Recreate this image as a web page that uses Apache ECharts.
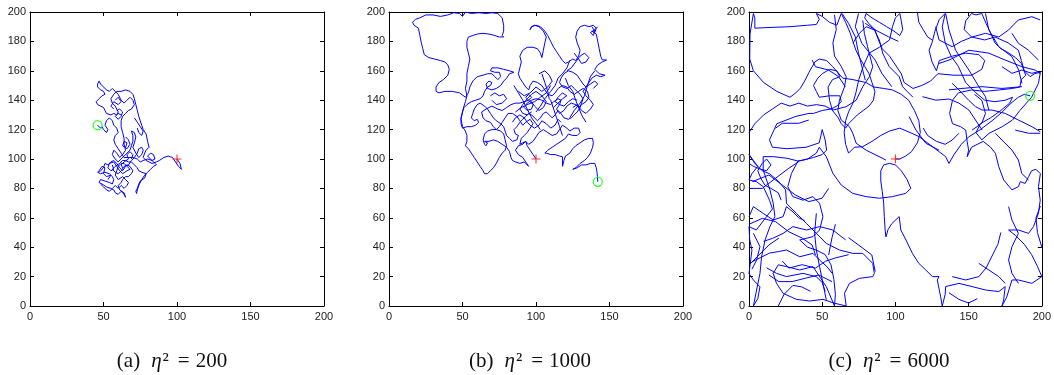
<!DOCTYPE html>
<html>
<head>
<meta charset="utf-8">
<script src="https://cdn.jsdelivr.net/npm/echarts@6/dist/echarts.min.js"></script>
<style>
  html, body { margin: 0; padding: 0; background: #fff; }
  #main { width: 1054px; height: 375px; }
</style>
</head>
<body>
<div id="main"></div>
<script>
// trajectories (x, y in field units 0..200)
var walk200 = [
  [100,100],[102,97],[103,93],[101,95],[99,98],[97,101],[94,102],[91,101],[88,99],[86,98],[83,97],[81,98],[79,99],[77,101],
  [78,104],[79,106],[81,108],[80,112],[79,117],[77,120],[76,123],[75,126],[74,129],[73,133],[72,137],[71,141],[70,144],
  [68,146],[65,147],[62,146],[59,146],[57,144],[55,141],[56,138],[58,136],[60,132],[59,130],[57,131],[55,130],[52,131],
  [51,133],[50,135],[48,136],[46,137],[45,139],[47,141],[49,143],[51,144],[50,146],[48,147],[46,149],[46,151],[47,153],
  [48,151],[50,149],[52,147],[54,146],[56,148],[58,146],[60,144],[62,140],[64,138],[66,140],[68,142],[70,140],[71,137],
  [69,134],[67,133],[65,131],[63,129],[62,126],[62,122],[63,118],[64,114],[64,110],[65,106],[63,103],[61,101],[59,104],
  [57,106],[56,103],[58,100],[60,98],[62,100],[64,102],[66,104],[68,106],[69,109],[70,112],[70,116],[69,119],[71,118],
  [72,115],[71,111],[70,108],[72,104],[74,101],[76,103],[77,106],[76,108],[74,107],[73,104],[71,101],[69,99],[67,96],
  [65,95],[63,92],[61,94],[59,97],[57,99],[55,98],[53,96],[51,97],[50,94],[48,92],[46,91],[48,90],[51,91],[54,90],
  [56,88],[57,86],[56,83],[54,84],[51,85],[48,86],[47,84],[49,83],[52,81],[55,80],[57,79],[58,77],[60,76],[62,78],
  [64,76],[65,74],[64,77],[61,79],[60,82],[62,84],[63,86],[65,88],[67,88],[69,90],[70,92],[68,95],[66,96],[64,95],
  [62,92],[60,90],[58,91],[56,93],[58,95],[61,97],[63,99],[65,99],[67,98],[69,98],[71,96],[73,94],[74,92],[76,91],
  [79,90],[78,87],[75,85],[74,83],[73,80],[72,78],[72.5,76.5],[73,79],[74,82],[76,86],[78,89],[80,91],[82,93],[84,95],
  [86,96],[84,98],[82,100],[80,102],[82,104],[84,103],[85,100],[83,99],[80,100],[77,99],[75,98],[73,100],[70,101],
  [67,101],[64,101],[62,104],[60,107],[58,110],[57,113],[58,116],[60,118],[59,121],[57,123],[56,126],[54,128],[52,126],
  [51,123],[53,120],[52,118],[50,120],[49,122],[48,121],[46,123]
];
// short side loops of the same walk
var extra200 = [
  [[56,96],[57,93],[55,92],[53,94],[54,97],[57,98],[59,95],[61,92],[63,90],[66,92],[68,93],[66,95],[64,97],[62,97],[60,95],
   [59,92],[58,89],[60,86],[63,88],[65,86],[67,84],[66,82],[64,80],[62,82],[60,80],[58,82],[56,80],[54,78],[52,79],[50,81],[48,83]],
  [[62,130],[60,131],[58,129],[60,127],[62,129],[63,132],[61,134],[59,133]],
  [[69,100],[70,103],[68,105],[66,103],[67,100],[64,98],[62,96],[63,94]],
  [[47,92],[49,95],[51,94],[50,90],[52,88],[55,89],[53,86]],
  [[71,128],[73,125],[75,122],[77,119],[76,116],[74,118],[73,121]],
  [[65,108],[66,111],[64,112],[63,109],[66,107],[68,110],[67,113],[65,115]],
  [[58,140],[60,142],[62,139],[60,137],[57,139],[55,136],[57,134]]
];

var walk1000 = [
  [100,100],[98,103],[96,106],[94,109],[93,112],[91,111],[89,110],[90,114],[92,116],[94,118],[96,121],[98,124],[96,127],
  [93,125],[91,123],[89,126],[87,129],[84,131],[81,131],[79,128],[77,125],[75,122],[73,120],[71,122],[69,125],[66,126],
  [64,128],[63,132],[66,134],[70,136],[74,134],[77,133],[80,135],[83,137],[86,138],[89,138],[92,139],[95,140],[97,142],
  [95,144],[93,142],[96,139],[98,137],[97,134],[94,133],[92,135],[94,138],[97,140],[100,141],[104,140],[107,138],[110,137],
  [112,139],[115,141],[117,140],[116,137],[114,134],[116,131],[119,133],[121,136],[124,138],[127,137],[129,135],[131,137],
  [134,139],[136,142],[135,146],[132,148],[129,146],[126,144],[123,146],[121,149],[118,150],[115,148],[113,145],[111,143],
  [108,144],[106,147],[104,150],[101,152],[98,153],[96,150],[95,147],[93,149],[91,152],[89,155],[88,158],[89,162],[90,166],
  [89,170],[91,174],[94,176],[98,176],[101,175],[103,172],[104,169],[105,174],[106,179],[107,183],[105,187],[102,190],
  [99,191],[97,190],[96,188],[97,190],[100,191],[103,190],[106,187],[108,184],[110,180],[112,176],[114,173],[116,170],
  [118,167],[120,165],[122,166],[125,168],[127,167],[129,170],[130,174],[128,179],[127,183],[128,187],[130,190],[133,191],
  [136,190],[139,191],[141,189],[140,186],[138,187],[141,185],[142,180],[143,175],[144,170],[145,167.5],[148,167.3],
  [145,166],[142,164],[140,161],[143,158],[147,157],[144,156],[141,157],[138,155],[136,152],[134,149],[132,151],[130,154],
  [128,157],[125,159],[122,160],[119,158],[117,155],[116,152],[118,149],[121,148],[124,150],[126,148],[128,146],[130,144],
  [132,141],[131,138],[130,135],[128,132],[126,130],[124,128],[122,127],[119,128],[117,131],[115,133],[113,130],[111,128],
  [109,130],[107,132],[105,131],[103,128],[101,126],[99,128],[97,130],[95,131],[93,129],[91,127],[89,125],[87,122],
  [85,120],[86,117],[88,116],[87,113],[84,112],[82,114],[80,116],[79,119],[78,122],[76,124],[73,126],[71,128],[69,131],
  [67,134],[65,136],[62,138],[60,137],[58,134],[57,131],[56,128],[58,126],[60,127],[61,125],[59,123],[56,122],[53,122],
  [50,121],[49,124],[49,128],[50,132],[51,135],[53,137],[56,139],[59,140],[62,141],[64,143],[65,146],[67,149],[69,150],
  [70,152],[68,153],[66,151],[67,148],[70,147],[73,148],[76,150],[78,153],[80,155],[82,158],[85,159],[82,160],[78,161],
  [74,162],[70,162],[69,160],[72,159],[75,159],[76,156],[74,154],[72,156],[70,158],[67,158],[64,157],[60,156],[57,153],
  [55,149],[54,145],[52,142],[48,145],[43,146],[38,146],[34,145],[32,146],[32,149],[34,152],[37,154],[40,157],[41,161],
  [40,164],[38,166],[35,167],[31,168],[27,169],[24,171],[23,175],[22,179],[21,184],[20,189],[17,191],[16,193],[18,195],
  [21,196],[25,198],[30,198],[35,197],[40,198],[44,199.5],[48,199],[50,197],[52,200],[56,199],[61,199.5],[66,199],
  [70,199.5],[74,199],[77,196],[78,191],[78,187],[77,184],[78,183],[75,183],[72,184],[68,185],[64,185.5],[60,185],
  [57,184],[54,183],[53,180],[53,176],[54,172],[55,168],[54,163],[53,158],[53,153],[52,148],[53,143],[52,139],[51,136],
  [50,132],[49,127],[50,122],[52,119],[53,116],[53,112],[52,109],[54,107],[56,104],[58,101],[60,98],[62,95],[64,92],
  [65,90],[67,90],[69,92],[71,94],[73,97],[75,101],[77,104],[79,106],[80,109],[79,113],[78,117],[76,119],[73,120],
  [70,120],[67,119],[65,117],[64,113],[65,110],[66,109],[67,111],[65,112],[68,112],[71,113],[74,112],[77,110],[80,108],
  [82,105],[83,101],[84,99],[86,98],[89,97],[92,98],[94,96],[95,95],[93,98],[91,101],[88,103],[86,106],[88,109],[91,110],
  [93,112],[95,110],[98,112],[100,115],[102,118],[105,120],[108,118],[111,116],[114,117],[116,120],[118,123],[121,121],
  [123,119],[126,121],[129,121],[130,118],[128,116],[125,116],[122,117],[120,114],[117,112],[114,110],[111,108],[108,106],
  [106,104],[107,104],[110,103],[113,103],[116,102],[118,101.5],[118,98],[118,95],[119,99],[120,102],[123,104],[125,107],
  [127,109],[130,111],[133,113],[136,114],[138.5,114],[139,111],[138.5,108],[137,104],[135,101],[133,99],[130,97],
  [127,94],[125,93],[128,94],[131,96],[134,96],[137,97],[140,97],[141,94],[141.5,91],[141.8,88],[142,84.5]
];
var extra1000 = [
  [[96,140],[99,136],[102,133],[105,135],[107,139],[104,143],[100,146],[97,144],[94,141],[91,137],[89,134],[91,131],[94,130],[97,132]],
  [[112,135],[115,138],[118,141],[121,143],[118,145],[115,142],[113,139],[116,137],[119,136],[122,139],[125,141],[128,140]],
  [[125,135],[128,137],[131,133],[134,131],[137,134],[139,137],[137,140],[134,143],[132,146],[134,149],[137,151],[140,153],[142,151],[139,148]],
  [[126,172],[129,168],[131,165],[134,166],[136,169],[133,172],[130,170],[127,166],[124,162],[121,160]],
  [[138,190],[140,187],[139,184],[137,186],[140,188],[142,190]],
  [[70,140],[73,137],[77,138],[80,141],[78,144],[75,143],[72,145],[69,143]],
  [[84,125],[86,128],[89,130],[92,128],[94,125],[96,123],[99,121],[102,123],[104,126],[107,124],[110,121],[113,123],[115,127],[117,125]],
  [[100,132],[103,136],[106,141],[110,146],[113,150],[115,155],[118,158],[121,162],[123,167]],
  [[88,146],[92,143],[96,145],[100,149],[104,146],[108,149],[111,153],[109,157],[106,160],[102,158]],
  [[85,150],[88,145],[91,140],[93,136],[94,134],[97,128],[100,124],[103,120]],
  [[104,158],[106,152],[108,146],[109,141],[110,140],[112,134],[114,128],[116,122],[118,116]],
  [[120,155],[122,150],[125,146],[127,140],[129,135],[131,130],[134,125]],
  [[86,132],[90,135],[94,137],[99,139],[103,142],[107,145],[110,150]],
  [[123,128],[126,133],[130,138],[133,143],[135,150],[137,156],[140,160]]
];

var walk6000 = [
  [100,100],[103,100],[107,102],[111,105],[115,111],[117,118],[116,126],[113,133],[109,140],[104,144],[98,147],[92,148],
  [85,149],[80,152],[71,154],[64,155],[57,163],[53,167],[48,168],[45,166],[41,159],[38,153],[35,148],[32,145],[28,142],
  [19,146],[10,152],[3,160],[0.5,168],[0.7,185],[3,199],
  [4,196],[4,189],[15,189.5],[28,190],[40,191],[46,191.5],[48,195],[46,199],[50,197],[55,193],[60,191],[63,199],
  [66,193],[69,186],[71,180],[73,174],[76,168],[79,163],[82,158],[84,152],[86,146],[85,140],[82,136],[78,133],[74,130],
  [71,127],[68,124],[66,121],[63,124],[61,128],[57,133],[55,140],[54,149],[57,154],[62,156],[60,160],[55,161],[50,158],
  [47,155],[44,150],[46,146],[48,142],[55,143],[62,143],[63,139],[60,136],[56,134],[50,133],[44,131],[41,131],[32,129],
  [19,124],[14,113],[16,108],[26,107],[39,108],[48,111],[50,120],[52,113],[53,106],[50,103],[44,101],[36,99],[33.5,98.6],
  [26,100.5],[16.5,101.6],[9.7,101.6],
  [9.7,92.5],[12,85.7],[14.3,79],[16.5,70],[17.7,61],[14.3,54],[11,45],[8.6,33.5],[7.5,22.2],[5.2,10.9],[3,0],[6,5],
  [7.5,13],[3,17.7],[0,22],[1,30],[2,38],[0.5,45],[0,54],[5,51.7],[12,60.8],[16,66],[14,72],[9.7,81.2],[5,84.6],[0,85.7],
  [2,90],[6,95],[3,99],[0,103],[4,97],[9,92],[14,90],[20,85],[25,79],[25.6,69.8],[32.4,63],[39.2,56.2],[46,49.4],
  [52.8,42.6],[61.8,38.1],[70.9,35.8],[77.7,35.8],[84.5,29],[85.6,22.2],[84.5,20],[75.4,18.8],[68.6,15.4],[65.2,8.6],
  [66.4,0],
  [58,2],[50.5,4.5],[41.4,3.4],[32.4,4.5],[23.3,8.6],[18.8,15.4],[16.5,22.2],[20,28],[25.6,26.8],[34.6,24.5],[43.7,26.8],
  [48.2,20],[52.8,13.2],[58.4,0],[59,8],[58,18],[56,28],[52,35],[46,38],[40,40],[34.6,44.9],[43.7,47.2],[48.2,51.7],
  [50.5,60.8],[48.2,69.8],[43.7,74.4],[36.9,72],[29.9,74.4],[26.5,81.2],[29,90.2],[33.5,98.6],[40,100],[46,104],[48,108],
  [52.8,101.6],[57.3,90.2],[63,82.3],[70.9,76.6],[80,74.4],[89,73.3],[98,74.4],[107,76.6],[110.5,80],
  [108,86],[104,92],[100,96],[96,97],[92,96],[90,92],[90,85],[91,78],[92,70],[92.4,60.8],[93,51.7],[93.5,47],[95,52],
  [97.5,56],[102.6,60.8],[103.7,51.7],[107.2,44.9],[111.6,35.8],[116,29],[120.7,24.5],[125.3,20],[129.8,20],[128.6,17.7],
  [130.9,6.3],[132,0],
  [134,8],[134.3,13.2],[143.4,15.4],[152.4,13.2],[161.5,10.9],[170.6,9.8],[175,13.2],[173.9,4],[172.8,0],[176,6],
  [179.6,17.7],[184,17.7],[193.2,15.4],[200,20],[197,27],[193,35],[188,42],[182,48],[177.3,51.7],[184,51.7],[190.9,49.4],
  [194.3,54],[197.7,63],[198.9,72],[197.7,81.2],[199,90],
  [196,93],[193,92],[191,88],[188.6,83.4],[185.3,84.6],[184,81.2],[179.6,79],[174,85.7],[170.6,94.8],[168.3,103.9],
  [165,108],[160,112],
  [152,108],[149,101.6],[150,106],[149,112],[148,119.7],[144.5,122],[139,124],[137,131],[139,140],[143,145],[152,147],
  [161,146],[171,147],[180,148],[185,149],[186,154],[189,157],[186,165],[182,169],[176,173],[172,175],[168,179],[164,188],
  [162,192],[159,199],
  [155,198],[152,199],[148,194],[147,188],[152,183],[161,181],[168,183],[177,179],[184,174],[186,167],[188,160],[192,156],
  [195,158],[199,159],[197.7,151.5],[193,142],[185,133],[180,126.5],[173,122],[164,117.5],[159,113],[155,118],[158,124],
  [165,128],[172,133],[178,138],[180,142],[175,140],[168,139],[161,140],[155,145],[148,152],[143,163],[138,170],[134,179],
  [132,190],[134,199],
  [130,195],[127,187],[125,179],[123,174],[125,166],[128,160],[130,167],[139,170],[148,172],[157,171],[161,167],[159,161],
  [152,157],[140,157],[129,158],[124,153],[118,150],[112,148],[106,152],[104,158],[100,164],[96,170],[91,175],[88,182],
  [86,188],[82,192],[79,196],[80,199],[84,196],[89,193],[94,190],[99,187],[103,184],[105,188],[104,194],[103,199],
  [100,196],[98,190],[96,181],[89,176],[82,172],[78,163],[75,154],[73,145],[71,138],[68,132],[66,126],[65,118],[66,110],
  [68,104],[72,108],[77.7,108.4],[84,112],[90,116],[96,119],[103,121],[110,118],[116.2,115.2],[125.3,108.4],[134.3,101.6],
  [136.6,97],[140,103],[145,110],[150,115],[158,120],[166,126],[173,132],[179,138],[184,142],[188,144],[192,143]
];
var extra6000 = [
  [[58.4,198],[59.6,188],[57.3,179],[58.4,170],[63,163],[66.4,156],[65.2,149],[61.8,140],[60.7,133],[63,126.5],[68.6,122],
   [70.9,117.5],[73.2,110.7],[80,106],[86.7,102.7],[93.5,99.3]],
  [[70.9,178.7],[75.4,185.5],[80,190],[85.6,187.8],[89,181],[91.3,172],[95.8,162.8],[102.6,156],[104.9,149.2],[108,146],[112,142]],
  [[77.7,194.3],[78.8,185.5],[81,176.4],[84.5,162.8],[82.2,156],[77.7,149.2],[73.2,140],[66.4,135.6],[57.3,133.3],[52,136],
   [46,137],[40,136],[34,138],[28,136],[22,138],[16,134],[10,130],[4,124],[0,118]],
  [[0,97],[3,95],[8,93],[12,92],[15,96],[12,100],[9,97],[6,92],[8,87],[11,82],[15,80],[20,77],[22,72]],
  [[0,60.8],[3,67.6],[9.7,63],[16.5,58.5],[23.3,60.8],[25.6,67.6],[30,64],[34,60],[38,58]],
  [[10,44],[16,46],[23.3,49.4],[30,54],[39.2,51.7],[48.2,54],[57.3,51.7],[62,48],[66,45]],
  [[2,30],[8,33],[14,36],[20,37],[25.6,38.1],[34.6,33.5],[43.7,35.8],[48.2,31.3],[53,27],[57,22]],
  [[12,26],[18.8,22.2],[25.6,20],[36.9,22.2],[45.9,20],[50,16],[52,10]],
  [[46,63],[44.8,49.4],[46,38.1],[48.2,26.8],[50.5,15.4],[52.8,4]],
  [[143.4,117.5],[138.8,112.9],[134,110],[128,112],[122,116],[119,121]],
  [[152.4,119.7],[159,124.3],[161.5,131],[159,140],[154,144]],
  [[168.3,117.5],[172.8,112.9],[179.6,106.1],[184,99.3],[186.3,90.2],[190.9,85.7]],
  [[181.8,119.7],[190.9,117.5],[198.9,117.5]],
  [[127.5,190],[129.8,181],[138.8,176.4],[145,180],[152.4,183],[161.5,185.5],[170.6,183],[177.3,187.8],[184,194.6],[193.2,196.8],[198.9,194.6]],
  [[179.6,185.5],[184,178.7],[190.9,174],[197.7,167.3]],
  [[172.8,162.8],[179.6,158.3],[186.3,160.5],[193.2,158.3],[197.7,159.4]],
  [[138.8,151.5],[143.4,147],[150,140],[154.7,135.6],[159.2,133.3],[166,133.3],[175,131],[184,126.5],[193.2,122],[198.9,118.6]],
  [[177.3,67.6],[179.6,58.5],[184,49.4],[179.6,40.4],[177.3,31.3],[179.6,22.2],[184,15.4]],
  [[157,29],[163.8,24.5],[170.6,20],[175,15.4]],
  [[138.8,20],[148,17.7],[157,20],[162,26],[166,34],[170,42],[172,50]],
  [[136.6,9],[143.4,4.5],[150,2],[156,5]],
  [[3,49.4],[7.5,40.4],[5.2,31.3],[2,25]],
  [[115,200],[116,193],[119,188],[122,183],[125,181]],
  [[200,40],[197,50],[196,60],[199,68]],
  [[20,0],[24,8],[30,14],[36,13],[42,10]],
  [[134.3,199],[136.6,187.8],[141.1,174],[150.2,160.5],[157,149.2],[161.5,142.4],[163.8,133.3]],
  [[161.5,199],[163.8,187.8],[170.6,176.4],[179.6,169.6],[184.2,160.5],[186.4,151.5]],
  [[129.8,165],[136.6,167.3],[150.2,174],[163.8,172],[175,167.3],[186.4,162.8],[195.5,160.5],[199,158]],
  [[136.6,147],[145.6,148],[159.2,149.2],[172.8,148],[186.4,149.2]],
  [[118.5,142.4],[127.6,140],[136.6,140.8],[143.4,138],[150.2,133.3],[154.7,126.5],[159.2,119.7]],
  [[109.4,128.8],[114,119.7],[120.8,110.7],[129.8,106]],
  [[0,80],[9,80],[18,86.8],[27.2,93.7],[34,98.2]],
  [[2.3,84.6],[13.6,89.1],[22.7,82.3],[31.7,75.5],[40.8,71],[49.9,73.3],[54.4,80]],
  [[0,55.6],[9.1,59.6],[18.1,57.4],[27.2,50.5],[36.3,46.2],[43.1,41.5],[45.4,34.7]],
  [[0,27.9],[6.8,34.7],[13.6,41.5],[20.4,46.2]],
  [[22.7,30.6],[27.2,25.8],[36.3,28.1],[45.4,25.8],[52.2,30.4],[59,32.7],[68,34.9]],
  [[13.6,21.1],[20.4,16.6],[29.5,16.6],[38.5,18.9],[47.6,21.1],[56.7,16.6]],
  [[59,55.6],[56.7,46.5],[54.4,34.7]],
  [[68,46.5],[74.8,41.5],[83.9,34.7],[86.2,23.4]],
  [[63.5,199],[68,192.3],[72.6,183.2],[74.8,172],[77.1,162.8],[79.4,153.7]],
  [[74.8,199],[72.6,190],[77.1,178.7],[86.2,167.3],[90.7,158.3],[97.5,149.2]],
  [[79.4,192.3],[86.2,187.8],[95.2,183.2],[102,180]],
  [[43.1,167.3],[45.4,162.8],[54.4,160.5],[61.2,156],[65.8,149.2]],
  [[18.1,120.9],[22.7,124.3],[34,124.3],[40.8,126.5]]
];

var startPoint = [100, 100];
var endPoints = [[46, 123], [142, 84.5], [192, 143]];
var walks = [walk200, walk1000, walk6000];
var extras = [extra200, extra1000, extra6000];
var captionLabels = ['(a)', '(b)', '(c)'];
var etaSquared = ['200', '1000', '6000'];
var xTickStep = 50;
var yTickStep = 20;

var gridLefts = [30, 389, 749];
var captionCenters = [172, 530, 889];

var grids = [], xAxes = [], yAxes = [], series = [], graphics = [];
var tickLabel = { color: '#222', fontFamily: 'Liberation Sans, Arial, sans-serif', fontSize: 11 };
var axisLine = { color: '#000', width: 1 };

function boxAxis(kind, i, pos, labels) {
  return {
    type: 'value', gridIndex: i, min: 0, max: 200,
    interval: kind === 'x' ? xTickStep : yTickStep, position: pos,
    axisLine: { show: true, onZero: false, lineStyle: axisLine },
    axisTick: { inside: true, length: 4, lineStyle: axisLine },
    axisLabel: labels ? Object.assign({ margin: kind === 'x' ? 5 : 4 }, tickLabel) : { show: false },
    splitLine: { show: false }
  };
}

for (var i = 0; i < 3; i++) {
  grids.push({ left: gridLefts[i], top: 12, width: 294, height: 294 });
  xAxes.push(boxAxis('x', i, 'bottom', true), boxAxis('x', i, 'top', false));
  yAxes.push(boxAxis('y', i, 'left', true), boxAxis('y', i, 'right', false));

  var pieces = [{ coords: walks[i] }].concat(extras[i].map(function (p) { return { coords: p }; }));
  series.push({
    type: 'lines', coordinateSystem: 'cartesian2d', polyline: true,
    xAxisIndex: 2 * i, yAxisIndex: 2 * i, data: pieces, silent: true, z: 2,
    lineStyle: { color: '#0000ff', width: 1, opacity: 1, curveness: 0 }
  });
  series.push({
    type: 'scatter', xAxisIndex: 2 * i, yAxisIndex: 2 * i, data: [startPoint],
    symbol: 'path://M4.4,0h1.2v10h-1.2z M0,4.4h10v1.2h-10z', symbolSize: 9,
    itemStyle: { color: '#ff0000' }, z: 5, silent: true
  });
  series.push({
    type: 'scatter', xAxisIndex: 2 * i, yAxisIndex: 2 * i, data: [endPoints[i]],
    symbol: 'circle', symbolSize: 9,
    itemStyle: { color: 'rgba(0,0,0,0)', borderColor: '#00ff00', borderWidth: 1.3 }, z: 5, silent: true
  });

  graphics.push({
    type: 'text', x: captionCenters[i], y: 361,
    style: {
      text: '{n|' + captionLabels[i] + '}{i|η}{s|²}{e|=}{n|' + etaSquared[i] + '}',
      align: 'center', verticalAlign: 'middle',
      rich: {
        n: { fontFamily: 'Liberation Serif, serif', fontSize: 21, fill: '#111' },
        i: { fontFamily: 'Liberation Serif, serif', fontSize: 21, fontStyle: 'italic', fill: '#111', padding: [0, 0, 0, 11] },
        s: { fontFamily: 'Liberation Serif, serif', fontSize: 21, fill: '#111', padding: [0, 0, 0, 1] },
        e: { fontFamily: 'Liberation Serif, serif', fontSize: 21, fill: '#111', padding: [0, 6, 0, 9] }
      }
    }
  });
}

var option = {
  animation: false,
  backgroundColor: '#fff',
  grid: grids,
  xAxis: xAxes,
  yAxis: yAxes,
  series: series,
  graphic: graphics
};

echarts.init(document.getElementById('main')).setOption(option);
</script>
</body>
</html>
